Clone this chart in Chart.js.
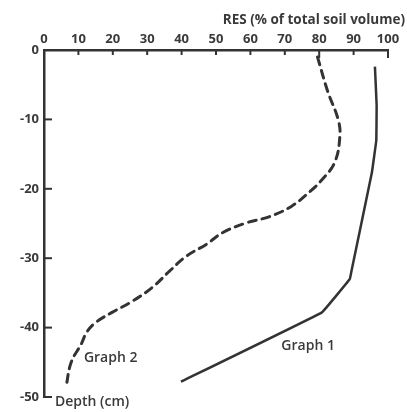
<!DOCTYPE html>
<html>
<head>
<meta charset="utf-8">
<script src="https://cdn.jsdelivr.net/npm/chart.js@4"></script>
<style>
html,body{margin:0;padding:0;background:#fff;}
#wrap{width:407px;height:412px;}
</style>
</head>
<body>
<div id="wrap"><canvas id="c" width="407" height="412"></canvas></div>
<script>
// RES (% of total soil volume) vs depth (cm)
const xTicks = [0, 10, 20, 30, 40, 50, 60, 70, 80, 90, 100];
const yTicks = [0, -10, -20, -30, -40, -50];

const graph1Res   = [96.2, 96.7, 96.6, 95.3, 89.4, 88.9, 80.8, 39.8];
const graph1Depth = [-2.4, -8, -13, -17.7, -31.8, -33, -37.8, -47.8];

const graph2Res   = [79.5, 82.5, 85.5, 86, 84.5, 80.8, 77.3, 72, 65.6, 58.9, 52, 47.2, 41.4, 36.4, 31.5, 25.7, 19.8, 15.2, 12.5, 10.8, 7.9, 6.4];
const graph2Depth = [-1, -6, -10, -12.5, -16.2, -18.7, -20.4, -22.5, -24, -24.9, -26.3, -28, -29.7, -31.9, -34.2, -36.2, -37.8, -39.2, -40.6, -42.4, -45, -48.6];

const labels = [
  {text: 'Graph 1', x: 69, y: -42.6, align: 'left'},
  {text: 'Graph 2', x: 11.6, y: -44.4, align: 'left'}
];

const ink = '#333333';
const textInk = '#3a3a3a';

const toPts = (xs, ys) => xs.map((v, i) => ({x: v, y: ys[i]}));

const decor = {
  id: 'decor',
  afterDraw(chart) {
    const {ctx, chartArea: a, scales: {x, y}} = chart;
    ctx.save();
    ctx.strokeStyle = ink;
    ctx.lineWidth = 2;
    xTicks.forEach(v => {
      if (v === 0) return;
      const px = x.getPixelForValue(v);
      const len = (v === 100 || v === 80) ? 8 : 5;
      ctx.beginPath(); ctx.moveTo(px, a.top); ctx.lineTo(px, a.top + len); ctx.stroke();
    });
    yTicks.forEach(v => {
      if (v === 0) return;
      const py = y.getPixelForValue(v);
      ctx.beginPath(); ctx.moveTo(a.left, py); ctx.lineTo(a.left + 8, py); ctx.stroke();
    });
    ctx.fillStyle = textInk;
    ctx.textBaseline = 'middle';
    ctx.font = '600 14px "Open Sans"';
    labels.forEach(l => {
      ctx.textAlign = l.align;
      ctx.fillText(l.text, x.getPixelForValue(l.x), y.getPixelForValue(l.y));
    });
    ctx.textAlign = 'left';
    ctx.fillText('Depth (cm)', a.left + 11, a.bottom + 5);
    ctx.font = 'bold 13.5px "Open Sans"';
    ctx.textAlign = 'right';
    ctx.fillText('RES (% of total soil volume)', chart.width - 2, 20);
    ctx.restore();
  }
};

new Chart(document.getElementById('c'), {
  type: 'scatter',
  data: {
    datasets: [
      {
        label: 'Graph 1',
        data: toPts(graph1Res, graph1Depth),
        showLine: true,
        borderColor: ink,
        borderWidth: 2.5,
        pointRadius: 0,
        tension: 0.05
      },
      {
        label: 'Graph 2',
        data: toPts(graph2Res, graph2Depth),
        showLine: true,
        borderColor: ink,
        borderWidth: 3,
        borderDash: [8, 6],
        borderCapStyle: 'round',
        pointRadius: 0,
        tension: 0.4
      }
    ]
  },
  options: {
    responsive: false,
    animation: false,
    layout: {padding: {top: 0, left: 0, right: 19, bottom: 15}},
    plugins: {legend: {display: false}, tooltip: {enabled: false}},
    scales: {
      x: {
        type: 'linear',
        position: 'top',
        min: 0, max: 100,
        afterBuildTicks: s => { s.ticks = xTicks.map(v => ({value: v})); },
        afterFit: s => { s.height = 50; },
        grid: {display: false, drawTicks: false},
        border: {display: true, color: ink, width: 2.5},
        ticks: {color: textInk, font: {family: 'Open Sans', size: 13, weight: 'bold'}, padding: 3, maxRotation: 0, autoSkip: false}
      },
      y: {
        type: 'linear',
        min: -50, max: 0,
        afterBuildTicks: s => { s.ticks = yTicks.map(v => ({value: v})); },
        afterFit: s => { s.width = 44; },
        grid: {display: false, drawTicks: false},
        border: {display: true, color: ink, width: 2.5},
        ticks: {color: textInk, font: {family: 'Open Sans', size: 13, weight: 'bold'}, padding: 5, autoSkip: false}
      }
    }
  },
  plugins: [decor]
});
</script>
</body>
</html>
